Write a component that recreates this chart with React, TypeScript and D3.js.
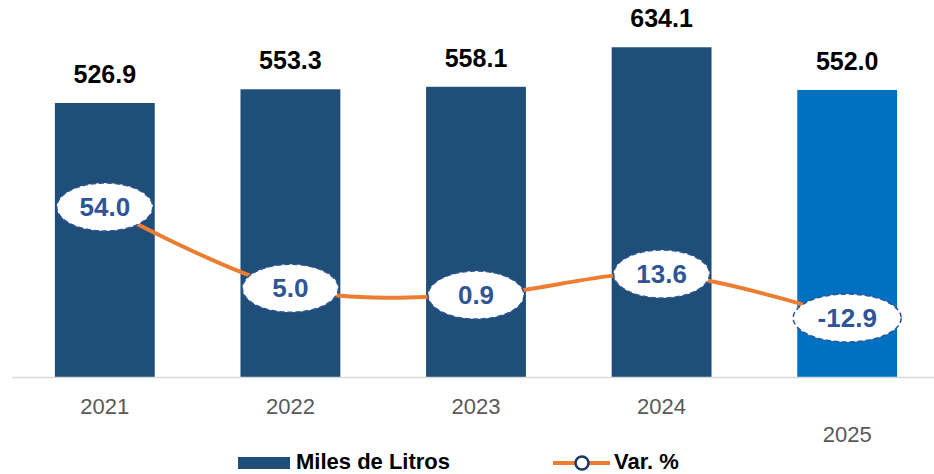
import React, { useEffect, useRef } from 'react';
import * as d3 from 'd3';

const years = ['2021', '2022', '2023', '2024', '2025'];
const litros = [526.9, 553.3, 558.1, 634.1, 552.0];
const variacion = [54.0, 5.0, 0.9, 13.6, -12.9];

const App = () => {
  const ref = useRef<SVGSVGElement | null>(null);

  useEffect(() => {
    if (!ref.current) return;
    const width = 934;
    const baseY = 377;
    const font = 'Arial, "Liberation Sans", sans-serif';

    const svg = d3.select(ref.current);
    svg.selectAll('*').remove();

    const x = d3.scaleBand().domain(years).range([12, 940]).paddingInner(0.462).paddingOuter(0.231);
    const y = d3.scaleLinear().domain([0, 700]).range([baseY, baseY - 364]);
    const y2 = d3.scaleLinear().domain([-12.9, 54]).range([318, 207]);

    // bars
    svg.selectAll('rect.bar')
      .data(years)
      .enter().append('rect')
      .attr('class', 'bar')
      .attr('x', d => x(d)!)
      .attr('width', x.bandwidth())
      .attr('y', (d, i) => y(litros[i]))
      .attr('height', (d, i) => baseY - y(litros[i]))
      .attr('fill', (d, i) => (i === years.length - 1 ? '#0070C0' : '#1F4E79'));

    // axis line
    svg.append('line')
      .attr('x1', 12).attr('x2', width)
      .attr('y1', baseY + 0.5).attr('y2', baseY + 0.5)
      .attr('stroke', '#D9D9D9').attr('stroke-width', 1.5);

    // bar labels
    svg.selectAll('text.val')
      .data(years)
      .enter().append('text')
      .attr('x', d => x(d)! + x.bandwidth() / 2)
      .attr('y', (d, i) => y(litros[i]) - 20)
      .attr('text-anchor', 'middle')
      .attr('font-family', font)
      .attr('font-weight', 'bold')
      .attr('font-size', 25)
      .attr('fill', '#000')
      .text((d, i) => litros[i].toFixed(1));

    // year labels (2025 sits lower)
    svg.selectAll('text.year')
      .data(years)
      .enter().append('text')
      .attr('x', d => x(d)! + x.bandwidth() / 2)
      .attr('y', (d, i) => (i === years.length - 1 ? 442 : 414))
      .attr('text-anchor', 'middle')
      .attr('font-family', font)
      .attr('font-size', 22)
      .attr('fill', '#595959')
      .text(d => d);

    // line
    const pts: [number, number][] = years.map((d, i) => [x(d)! + x.bandwidth() / 2, y2(variacion[i])]);
    svg.append('path')
      .attr('d', d3.line().curve(d3.curveCatmullRom.alpha(0.5))(pts))
      .attr('fill', 'none')
      .attr('stroke', '#ED7D31')
      .attr('stroke-width', 4);

    // ellipse labels
    const g = svg.selectAll('g.lab')
      .data(years)
      .enter().append('g')
      .attr('transform', (d, i) => `translate(${pts[i][0]},${pts[i][1]})`);
    g.append('ellipse')
      .attr('rx', (d, i) => (i === years.length - 1 ? 54 : 48))
      .attr('ry', 24)
      .attr('fill', '#fff')
      .attr('stroke', '#2F5597')
      .attr('stroke-width', 1.5)
      .attr('stroke-dasharray', '5 3');
    g.append('text')
      .attr('y', 9)
      .attr('text-anchor', 'middle')
      .attr('font-family', font)
      .attr('font-weight', 'bold')
      .attr('font-size', 26)
      .attr('fill', '#2F5597')
      .text((d, i) => variacion[i].toFixed(1));

    // legend
    const lg = svg.append('g');
    lg.append('rect').attr('x', 238).attr('y', 457).attr('width', 52).attr('height', 12).attr('fill', '#1F4E79');
    lg.append('text').attr('x', 296).attr('y', 469)
      .attr('font-family', font).attr('font-weight', 'bold').attr('font-size', 22).attr('fill', '#000')
      .text('Miles de Litros');
    lg.append('line').attr('x1', 553).attr('x2', 610).attr('y1', 463).attr('y2', 463)
      .attr('stroke', '#ED7D31').attr('stroke-width', 4);
    lg.append('circle').attr('cx', 582).attr('cy', 463).attr('r', 6.5)
      .attr('fill', '#fff').attr('stroke', '#1F3864').attr('stroke-width', 2.5);
    lg.append('text').attr('x', 614).attr('y', 469)
      .attr('font-family', font).attr('font-weight', 'bold').attr('font-size', 22).attr('fill', '#000')
      .text('Var. %');
  }, []);

  return (
    <svg ref={ref} width={934} height={474} style={{ position: 'absolute', left: 0, top: 0 }} />
  );
};

export default App;
